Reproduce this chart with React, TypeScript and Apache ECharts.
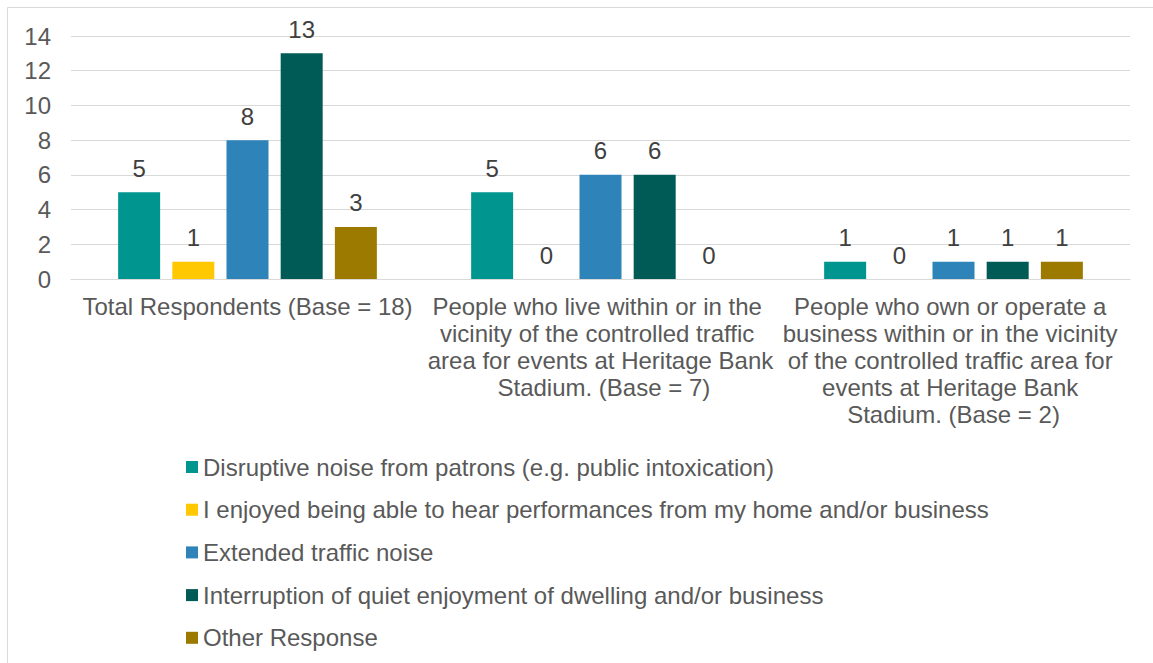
import React, { useEffect, useRef } from "react";
import * as echarts from "echarts";

const categories = [
  "Total Respondents (Base = 18)",
  "People who live within or in the vicinity of the controlled traffic area for events at Heritage Bank Stadium. (Base = 7)",
  "People who own or operate a business within or in the vicinity of the controlled traffic area for events at Heritage Bank Stadium. (Base = 2)",
];

const seriesNames = [
  "Disruptive noise from patrons (e.g. public intoxication)",
  "I enjoyed being able to hear performances from my home and/or business",
  "Extended traffic noise",
  "Interruption of quiet enjoyment of dwelling and/or business",
  "Other Response",
];

const disruptiveNoise = [5, 5, 1];
const enjoyedPerformances = [1, 0, 0];
const trafficNoise = [8, 6, 1];
const interruption = [13, 6, 1];
const otherResponse = [3, 0, 1];

const seriesValues = [disruptiveNoise, enjoyedPerformances, trafficNoise, interruption, otherResponse];
const colors = ["#00968F", "#FFC800", "#2E83B8", "#005A55", "#9C7A00"];

const FONT = "'Liberation Sans', Arial, sans-serif";
const FS = 24;

export default function App() {
  const ref = useRef<HTMLDivElement>(null);
  useEffect(() => {
    if (!ref.current) return;
    const chart = echarts.init(ref.current, null, { renderer: "svg" });
    chart.setOption({
      animation: false,
      backgroundColor: "#ffffff",
      textStyle: { fontFamily: FONT },
      graphic: [
        {
          type: "rect",
          shape: { x: 7.5, y: 7.5, width: 1160, height: 680 },
          style: { fill: "none", stroke: "#d9d9d9", lineWidth: 1 },
          silent: true,
        },
      ],
      grid: { left: 71, right: 23, top: 36, bottom: 384, containLabel: false },
      legend: {
        orient: "vertical",
        left: 186,
        top: 455,
        padding: 0,
        itemWidth: 12,
        itemHeight: 12,
        itemGap: 18.7,
        icon: "rect",
        data: seriesNames,
        textStyle: { fontSize: FS, color: "#595959", fontFamily: FONT },
      },
      xAxis: {
        type: "category",
        data: categories,
        axisLine: { show: true, lineStyle: { color: "#d9d9d9", width: 1 } },
        axisTick: { show: false },
        axisLabel: {
          interval: 0,
          fontSize: FS,
          color: "#595959",
          fontFamily: FONT,
          margin: 14,
          lineHeight: 27,
          width: 350,
          overflow: "break",
          align: "center",
        },
      },
      yAxis: {
        type: "value",
        min: 0,
        max: 14,
        interval: 2,
        axisLine: { show: false },
        axisTick: { show: false },
        splitLine: { lineStyle: { color: "#d9d9d9", width: 1 } },
        axisLabel: { fontSize: FS, color: "#595959", fontFamily: FONT, margin: 20 },
      },
      series: seriesNames.map((name, i) => ({
        name,
        type: "bar",
        data: seriesValues[i],
        barWidth: 42,
        barGap: "29%",
        itemStyle: { color: colors[i] },
        label: {
          show: true,
          position: "top",
          distance: 12,
          fontSize: FS,
          color: "#404040",
          fontFamily: FONT,
        },
      })),
    });
    return () => chart.dispose();
  }, []);
  return (
    <div
      ref={ref}
      style={{ position: "fixed", left: 0, top: 0, width: 1153, height: 663 }}
    />
  );
}
